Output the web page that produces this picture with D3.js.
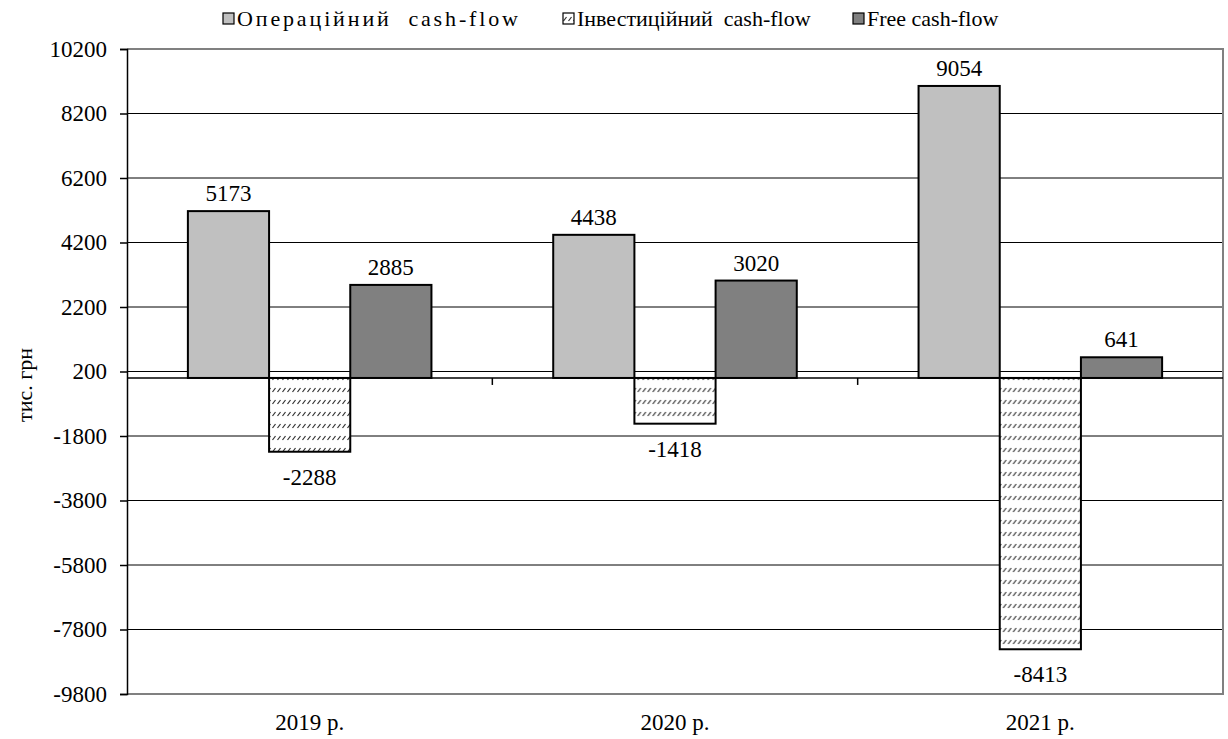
<!DOCTYPE html>
<html>
<head>
<meta charset="utf-8">
<script src="https://cdn.jsdelivr.net/npm/d3@7"></script>
</head>
<body style="margin:0">
<svg id="chart" width="1228" height="739"></svg>
<script>
// дані
const years = ["2019 р.", "2020 р.", "2021 р."];
const seriesNames = ["Операційний  cash-flow", "Інвестиційний  cash-flow", "Free cash-flow"];
const operating = [5173, 4438, 9054];
const investing = [-2288, -1418, -8413];
const freeCF = [2885, 3020, 641];
const yTicks = [10200, 8200, 6200, 4200, 2200, 200, -1800, -3800, -5800, -7800, -9800];

const FONT = "Liberation Serif";
const svg = d3.select("#chart");
const m = { left: 127, right: 1223, top: 49, bottom: 694 };

// штрихування для інвестиційного потоку
const defs = svg.append("defs");
const pat = defs.append("pattern")
  .attr("id", "hatch")
  .attr("patternUnits", "userSpaceOnUse")
  .attr("width", 5).attr("height", 12);
pat.append("rect").attr("width", 5).attr("height", 12).attr("fill", "#fff");
pat.append("line")
  .attr("x1", 0.5).attr("y1", 8).attr("x2", 3.5).attr("y2", 4)
  .attr("stroke", "#333").attr("stroke-width", 1.2);

const y = d3.scaleLinear().domain([-9800, 10200]).range([m.bottom, m.top]);
const x0 = d3.scaleBand().domain(years).range([m.left, m.right]);
const x1 = d3.scaleBand().domain(seriesNames).range([0, x0.bandwidth()])
  .paddingInner(0).paddingOuter(0.75);

const fills = ["#c0c0c0", "url(#hatch)", "#808080"];
const rows = years.map((yr, i) => ({ year: yr, values: [operating[i], investing[i], freeCF[i]] }));

// сітка
svg.append("g").selectAll("line").data(yTicks).enter().append("line")
  .attr("x1", m.left).attr("x2", m.right)
  .attr("y1", d => y(d)).attr("y2", d => y(d))
  .attr("stroke", "#000").attr("stroke-width", 1);

// рамка (верх і право сірі)
svg.append("path")
  .attr("d", `M${m.left},${m.top}H${m.right}V${m.bottom}H${m.left}`)
  .attr("fill", "none").attr("stroke", "#808080").attr("stroke-width", 2);

// стовпці
const groups = svg.append("g").selectAll("g").data(rows).enter().append("g")
  .attr("transform", d => `translate(${x0(d.year)},0)`);

groups.selectAll("rect")
  .data(d => d.values.map((v, k) => ({ v, k })))
  .enter().append("rect")
  .attr("x", d => x1(seriesNames[d.k]))
  .attr("width", x1.bandwidth())
  .attr("y", d => y(Math.max(0, d.v)))
  .attr("height", d => Math.abs(y(d.v) - y(0)))
  .attr("fill", d => fills[d.k])
  .attr("stroke", "#000").attr("stroke-width", 2);

groups.selectAll("text")
  .data(d => d.values.map((v, k) => ({ v, k })))
  .enter().append("text")
  .attr("x", d => x1(seriesNames[d.k]) + x1.bandwidth() / 2)
  .attr("y", d => d.v >= 0 ? y(d.v) - 10 : y(d.v) + 33)
  .attr("text-anchor", "middle")
  .attr("font-family", FONT)
  .attr("font-size", 23)
  .text(d => d.v);

// вісь категорій на нулі
svg.append("line")
  .attr("x1", m.left).attr("x2", m.right)
  .attr("y1", y(0)).attr("y2", y(0))
  .attr("stroke", "#000").attr("stroke-width", 1.5);
svg.append("g").selectAll("line").data(years.slice(1)).enter().append("line")
  .attr("x1", d => x0(d)).attr("x2", d => x0(d))
  .attr("y1", y(0)).attr("y2", y(0) + 7)
  .attr("stroke", "#000").attr("stroke-width", 1.5);

svg.append("g").selectAll("text").data(years).enter().append("text")
  .attr("x", d => x0(d) + x0.bandwidth() / 2)
  .attr("y", 730)
  .attr("text-anchor", "middle")
  .attr("font-family", FONT)
  .attr("font-size", 23)
  .text(d => d);

// вісь Y
const yAxis = svg.append("g")
  .attr("transform", `translate(${m.left},0)`)
  .call(d3.axisLeft(y).tickValues(yTicks).tickSize(7).tickPadding(13).tickFormat(d => String(d)));
yAxis.attr("font-family", FONT);
yAxis.select(".domain").attr("stroke", "#000").attr("stroke-width", 1.5);
yAxis.selectAll(".tick line").attr("stroke", "#000").attr("stroke-width", 1.5);
yAxis.selectAll("text").attr("font-size", 23).attr("font-family", FONT).attr("fill", "#000");

svg.append("text")
  .attr("transform", "translate(32,385) rotate(-90)")
  .attr("text-anchor", "middle")
  .attr("font-family", FONT)
  .attr("font-size", 22)
  .text("тис. грн");

// легенда (перший напис у оригіналі розтягнутий)
const legendX = [223, 563, 853];
const legendLen = [281, null, null];
const leg = svg.append("g").selectAll("g").data(seriesNames).enter().append("g")
  .attr("transform", (d, i) => `translate(${legendX[i]},13)`);
leg.append("rect")
  .attr("width", 11).attr("height", 11)
  .attr("fill", (d, i) => fills[i])
  .attr("stroke", "#000").attr("stroke-width", 1.2);
leg.append("text")
  .attr("x", 14).attr("y", 13)
  .attr("font-family", FONT)
  .attr("font-size", 22)
  .attr("xml:space", "preserve")
  .style("white-space", "pre")
  .attr("textLength", (d, i) => legendLen[i])
  .attr("lengthAdjust", "spacing")
  .text(d => d);
</script>
</body>
</html>
